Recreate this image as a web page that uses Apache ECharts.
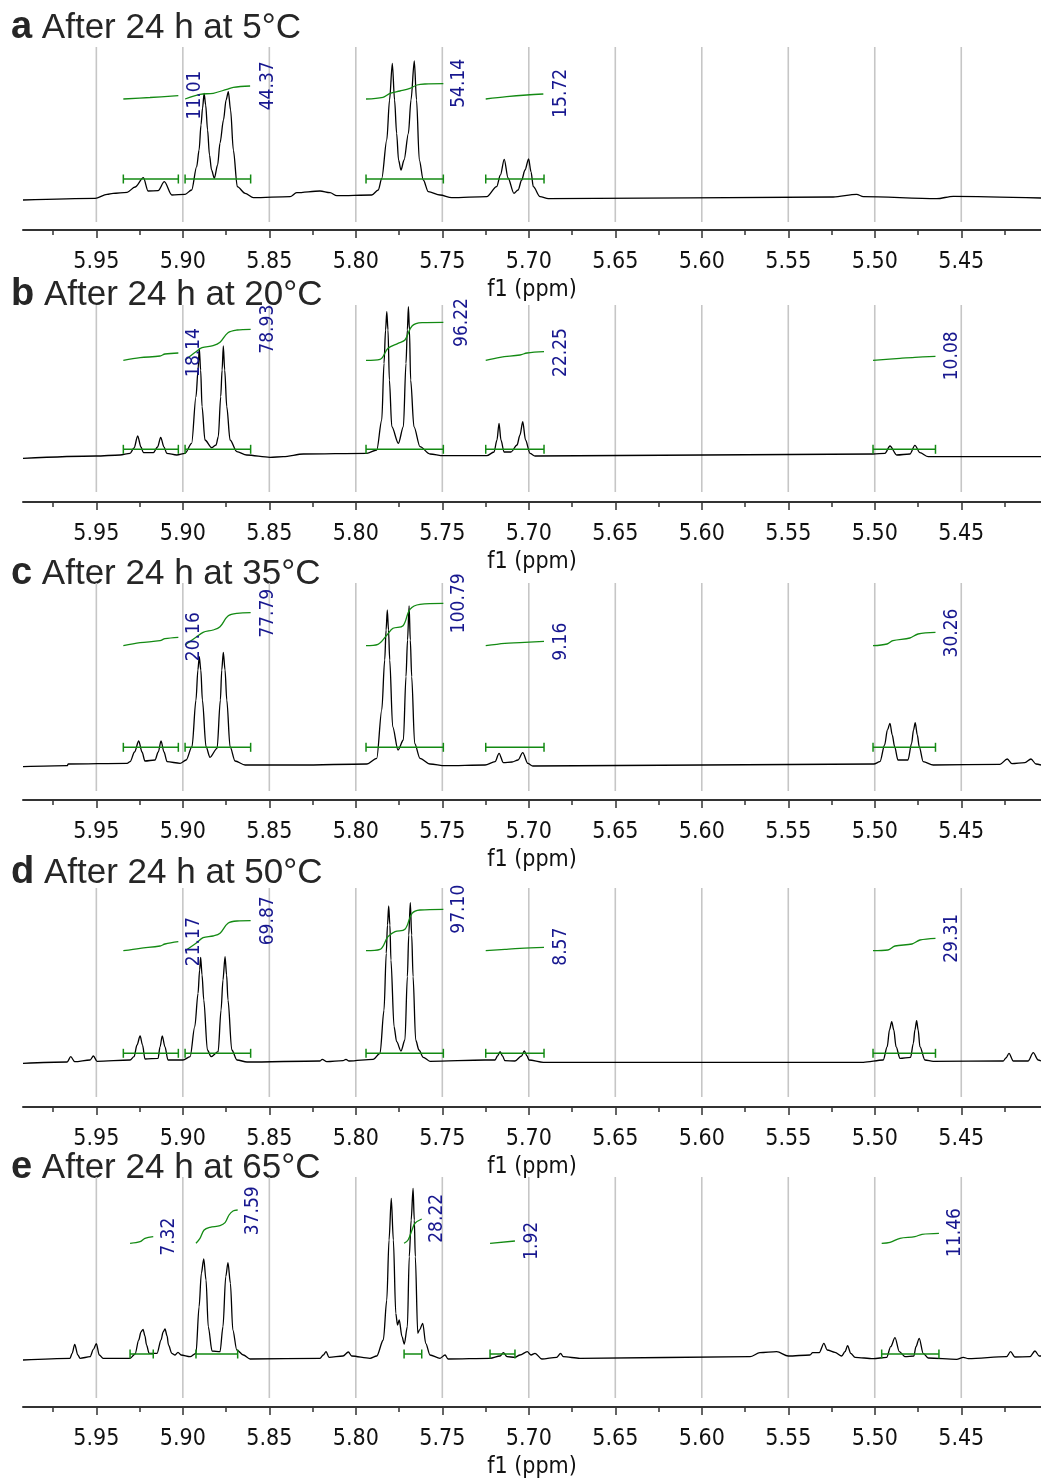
<!DOCTYPE html>
<html><head><meta charset="utf-8">
<script src="https://cdn.jsdelivr.net/npm/echarts@6/dist/echarts.min.js"></script>
<style>html,body{margin:0;padding:0;background:#fff}#c{width:1041px;height:1481px}</style>
</head><body><div id="c"></div>
<script>
// ---------- data ----------
const majorTicks = [5.95,5.90,5.85,5.80,5.75,5.70,5.65,5.60,5.55,5.50,5.45];
const minorTicks = [5.975,5.925,5.875,5.825,5.775,5.725,5.675,5.625,5.575,5.525,5.475,5.425];
const ppmMin = 5.4039, ppmMax = 5.9924;
const panelLetters = ['a','b','c','d','e'];
const panelTitles = ['After 24 h at 5°C','After 24 h at 20°C','After 24 h at 35°C','After 24 h at 50°C','After 24 h at 65°C'];
const axisName = 'f1 (ppm)';

// spectra: [ppm, intensity (a.u.)]
const specA = [[5.9924,22],[5.9507,23.7],[5.9438,27.7],[5.9403,28.7],[5.9322,29.7],[5.9276,35],[5.9228,44.3],[5.9201,31],[5.9143,31.3],[5.9107,40.3],[5.9064,27],[5.8987,27.7],[5.8949,32],[5.8920,55.3],[5.8906,72],[5.8895,97],[5.8886,114],[5.8877,128.7],[5.8868,117],[5.8857,92],[5.8846,67],[5.8834,52],[5.8818,43.7],[5.8799,57],[5.8785,79],[5.8765,102],[5.8750,122],[5.8737,130.3],[5.8724,112],[5.8708,72],[5.8685,35.3],[5.8640,28.7],[5.8592,24.3],[5.8380,25.3],[5.8342,29.3],[5.8207,31],[5.8149,29.3],[5.8110,26.3],[5.7908,27],[5.7870,32],[5.7850,43.7],[5.7821,82],[5.7805,122],[5.7789,158.7],[5.7776,122],[5.7764,88.7],[5.7753,62],[5.7739,52],[5.7721,62],[5.7696,88.7],[5.7681,122],[5.7662,161],[5.7649,122],[5.7633,62],[5.7610,42],[5.7581,30.3],[5.7513,27],[5.7446,24.3],[5.7243,25.3],[5.7186,35.3],[5.7164,47],[5.7142,62.7],[5.7120,44],[5.7086,28.7],[5.7062,32],[5.7041,42],[5.7022,52],[5.7001,63],[5.6987,50],[5.6974,35.3],[5.6935,25.3],[5.6887,23.3],[5.5240,25],[5.5105,27.7],[5.5066,25.3],[5.4642,23.3],[5.4546,25.7],[5.4039,24]];
const specB = [[5.9924,33.7],[5.9502,36],[5.9363,37],[5.9305,38.7],[5.9282,44],[5.9261,56],[5.9242,45],[5.9228,39.3],[5.9171,39.3],[5.9146,45],[5.9128,54.7],[5.9109,45],[5.9093,38.7],[5.9035,37],[5.8987,38.7],[5.8949,48.7],[5.8924,95.3],[5.8912,122],[5.8905,143.7],[5.8897,122],[5.8889,85.3],[5.8872,52],[5.8833,44.3],[5.8808,47],[5.8795,55.3],[5.8781,95.3],[5.8773,122],[5.8766,146],[5.8758,122],[5.8746,85.3],[5.8727,52],[5.8688,40.3],[5.8631,37],[5.8496,34.7],[5.8419,35.3],[5.8303,38],[5.7937,38.7],[5.7879,42],[5.7850,72],[5.7837,128.7],[5.7828,162],[5.7821,180.3],[5.7814,162],[5.7806,112],[5.7792,65.3],[5.7754,48.7],[5.7725,65.3],[5.7710,128.7],[5.7702,162],[5.7696,185.3],[5.7690,162],[5.7683,112],[5.7664,65.3],[5.7629,45.3],[5.7571,38],[5.7494,36.3],[5.7243,36.3],[5.7201,40],[5.7184,52],[5.7172,68.7],[5.7161,52],[5.7143,40],[5.7103,40],[5.7068,47],[5.7051,57],[5.7035,70.3],[5.7019,52],[5.6993,38.7],[5.6964,36],[5.5009,38],[5.4941,38.7],[5.4912,46],[5.4873,37],[5.4797,38],[5.4768,46.7],[5.4739,39.3],[5.4691,35.3],[5.4039,35.3]];
const specC = [[5.9924,24.3],[5.9669,25.3],[5.9662,27],[5.9322,27.7],[5.9305,29.3],[5.9279,39],[5.9255,50],[5.9236,39],[5.9219,30],[5.9161,31],[5.9142,39],[5.9126,50],[5.9109,39],[5.9091,29.3],[5.9016,27.7],[5.8981,31],[5.8947,44.3],[5.8924,91],[5.8913,121],[5.8905,134.3],[5.8896,121],[5.8887,91],[5.8866,44.3],[5.8843,33.7],[5.8802,42.7],[5.8783,91],[5.8775,121],[5.8766,138.7],[5.8756,121],[5.8746,91],[5.8727,44.3],[5.8698,30],[5.8640,26],[5.8322,26],[5.7937,27],[5.7879,32.7],[5.7850,81],[5.7833,131],[5.7825,161],[5.7818,181],[5.7811,161],[5.7804,131],[5.7787,64.3],[5.7756,41],[5.7725,51],[5.7710,114.3],[5.7701,151],[5.7692,185],[5.7685,151],[5.7677,114.3],[5.7660,47.7],[5.7629,32.7],[5.7571,27],[5.7484,25.3],[5.7253,26],[5.7195,29.3],[5.7172,37.7],[5.7147,28.3],[5.7097,29],[5.7062,31],[5.7035,38.3],[5.7006,27.7],[5.6977,25],[5.5005,27],[5.4970,29.3],[5.4943,46],[5.4927,61],[5.4912,67.7],[5.4899,56],[5.4885,44.3],[5.4866,31],[5.4808,31],[5.4787,47.7],[5.4776,61],[5.4766,68.3],[5.4754,56],[5.4743,44.3],[5.4720,29.3],[5.4662,26],[5.4276,26.7],[5.4234,32],[5.4207,27.3],[5.4132,28.3],[5.4097,32],[5.4068,27],[5.4039,26]];
const specD = [[5.9924,33.7],[5.9669,35],[5.9648,40.3],[5.9625,35.3],[5.9536,37],[5.9517,41],[5.9496,35.7],[5.9305,37],[5.9282,40.3],[5.9265,52],[5.9247,61],[5.9233,52],[5.9219,38],[5.9143,38.7],[5.9132,50],[5.9119,61],[5.9103,50],[5.9086,37],[5.8999,37],[5.8958,40.3],[5.8931,70.3],[5.8912,103.7],[5.8903,127],[5.8897,139.7],[5.8889,122],[5.8879,97],[5.8858,47],[5.8837,40.3],[5.8796,45.3],[5.8779,87],[5.8768,117],[5.8756,140.3],[5.8747,122],[5.8739,97],[5.8717,47],[5.8687,37],[5.8629,35],[5.8207,36],[5.8194,37.7],[5.8168,35.3],[5.8074,36.3],[5.8057,37.7],[5.8039,36],[5.7900,37.7],[5.7860,43.7],[5.7837,87],[5.7824,143.7],[5.7817,172],[5.7810,191],[5.7803,172],[5.7797,137],[5.7779,70.3],[5.7764,55.3],[5.7739,46],[5.7716,57],[5.7702,120.3],[5.7694,162],[5.7685,194.3],[5.7677,162],[5.7669,120.3],[5.7654,57],[5.7635,47],[5.7610,39.7],[5.7571,35.7],[5.7253,37],[5.7195,37],[5.7181,41],[5.7166,45.3],[5.7152,41],[5.7138,36.3],[5.7080,36],[5.7042,41],[5.7026,46],[5.7010,41],[5.6999,37],[5.6916,34.7],[5.5066,34.7],[5.4951,37],[5.4928,50.3],[5.4915,67],[5.4902,75.3],[5.4890,67],[5.4877,50.3],[5.4854,38.7],[5.4793,39.7],[5.4777,53.7],[5.4768,67],[5.4758,76.3],[5.4749,67],[5.4739,50.3],[5.4710,37],[5.4662,35.7],[5.4257,36],[5.4242,39],[5.4224,43.7],[5.4199,36],[5.4113,36],[5.4084,44.3],[5.4055,37],[5.4039,36]];
const specE = [[5.9924,38],[5.9652,39.7],[5.9640,44.7],[5.9625,53.7],[5.9607,43],[5.9594,39.7],[5.9536,41.3],[5.9517,48.7],[5.9500,54.3],[5.9483,43],[5.9461,39.7],[5.9305,39.7],[5.9276,44],[5.9255,58],[5.9242,66],[5.9230,68.7],[5.9219,62],[5.9210,53],[5.9195,44.7],[5.9149,44.7],[5.9126,58],[5.9114,66],[5.9103,69],[5.9091,62],[5.9083,53],[5.9064,44.7],[5.9045,43],[5.9028,45.7],[5.9010,43],[5.8958,41.3],[5.8924,44.7],[5.8906,91.3],[5.8893,124.7],[5.8879,139],[5.8866,118],[5.8853,71.3],[5.8831,47],[5.8785,46.3],[5.8768,71.3],[5.8752,121.3],[5.8739,135.3],[5.8725,114.7],[5.8711,68],[5.8688,48],[5.8650,43],[5.8611,39],[5.8207,39.7],[5.8188,43],[5.8172,46.3],[5.8155,40.7],[5.8074,42],[5.8043,46],[5.8024,42],[5.7918,39.7],[5.7879,42],[5.7841,58],[5.7821,98],[5.7808,158],[5.7795,199.7],[5.7783,158],[5.7769,84.7],[5.7759,73],[5.7749,78],[5.7733,61.3],[5.7720,54],[5.7702,71.3],[5.7691,141.3],[5.7680,178],[5.7669,209.7],[5.7662,178],[5.7656,141.3],[5.7642,64.7],[5.7632,68],[5.7613,74.7],[5.7596,54.7],[5.7571,43],[5.7513,39.7],[5.7484,43],[5.7467,39],[5.7224,39.7],[5.7166,42],[5.7147,45.3],[5.7126,41.3],[5.7080,40.7],[5.7051,43],[5.7009,46.3],[5.6987,43],[5.6964,44.7],[5.6925,39],[5.6839,40.7],[5.6816,44.7],[5.6801,41.3],[5.6704,39.7],[5.5721,41.3],[5.5664,45.3],[5.5567,46.3],[5.5500,42],[5.5375,43],[5.5359,45.3],[5.5321,45.3],[5.5294,54.7],[5.5275,48],[5.5230,45.7],[5.5191,42],[5.5172,46.3],[5.5157,52.3],[5.5139,44.7],[5.5114,40.7],[5.5009,39.3],[5.4931,40.7],[5.4908,51.3],[5.4883,60.3],[5.4858,46.3],[5.4825,41.3],[5.4774,42],[5.4762,51.3],[5.4743,59.7],[5.4720,44.7],[5.4691,40],[5.4527,38.7],[5.4488,40.7],[5.4459,39.3],[5.4238,41.3],[5.4215,46.3],[5.4190,41],[5.4103,41.3],[5.4074,47],[5.4049,42],[5.4039,42]];

// integration ranges: [ppm start, ppm end, level]
const intBarsA = [[5.9344,5.9026,43],[5.8987,5.8608,43],[5.7941,5.7494,43],[5.7249,5.6912,43]];
const intBarsB = [[5.9344,5.9026,42.7],[5.8987,5.8608,42.7],[5.7941,5.7494,42.7],[5.7249,5.6912,42.7],[5.5010,5.4649,42.7]];
const intBarsC = [[5.9344,5.9026,43.7],[5.8987,5.8608,43.7],[5.7941,5.7494,43.7],[5.7249,5.6912,43.7],[5.5010,5.4649,43.7]];
const intBarsD = [[5.9344,5.9026,43.7],[5.8987,5.8608,43.7],[5.7941,5.7494,43.7],[5.7249,5.6912,43.7],[5.5010,5.4649,43.7]];
const intBarsE = [[5.9305,5.9171,44],[5.8924,5.8683,44],[5.7721,5.7619,44],[5.7224,5.7080,44],[5.4960,5.4629,44]];

// integral curves
const curvesA = [
 [[5.9344,123],[5.9190,124.5],[5.9026,126.3]],
 [[5.8987,123],[5.8901,127.7],[5.8824,128.7],[5.8746,132.7],[5.8708,134.7],[5.8611,136]],
 [[5.7941,123],[5.7843,124.7],[5.7802,128.7],[5.7745,131],[5.7687,133.7],[5.7646,137],[5.7600,138],[5.7494,138.3]],
 [[5.7249,123],[5.7128,125.3],[5.7012,127],[5.6916,128]]];
const curvesB = [
 [[5.9344,131.7],[5.9247,134.3],[5.9132,136],[5.9103,138],[5.9026,139]],
 [[5.8987,132],[5.8924,140.3],[5.8889,144.3],[5.8825,146.3],[5.8785,149.7],[5.8739,159.3],[5.8687,162],[5.8608,162.7]],
 [[5.7941,131.7],[5.7860,132.7],[5.7814,143.7],[5.7756,148.7],[5.7716,152],[5.7675,166],[5.7617,169.3],[5.7494,169.7]],
 [[5.7249,131.7],[5.7166,134.7],[5.7051,137],[5.7010,139],[5.6912,140.3]],
 [[5.5010,131.7],[5.4854,133.7],[5.4768,134.7],[5.4649,135.7]]];
const curvesC = [
 [[5.9344,145.3],[5.9247,148.3],[5.9132,150.3],[5.9103,152.3],[5.9026,153.7]],
 [[5.8987,146],[5.8924,153.7],[5.8883,158.7],[5.8825,161],[5.8785,164.3],[5.8739,175],[5.8687,177.7],[5.8608,178.3]],
 [[5.7941,145.3],[5.7872,146.7],[5.7820,156],[5.7785,162.7],[5.7727,165.3],[5.7687,181.7],[5.7629,186.7],[5.7494,187.7]],
 [[5.7249,145.3],[5.7138,147.7],[5.7051,148.3],[5.6912,149.7]],
 [[5.5010,145.3],[5.4929,147],[5.4895,150.3],[5.4797,153],[5.4750,157],[5.4649,158.7]]];
const curvesD = [
 [[5.9344,146.3],[5.9247,148.7],[5.9132,151],[5.9103,153],[5.9026,155.3]],
 [[5.8987,146.3],[5.8924,153.7],[5.8883,159.3],[5.8825,161],[5.8785,163.7],[5.8739,173.7],[5.8687,176],[5.8608,176.3]],
 [[5.7941,146.3],[5.7860,147.7],[5.7814,160.3],[5.7773,165.3],[5.7716,167.7],[5.7675,183.7],[5.7629,187],[5.7494,187.7]],
 [[5.7249,146.3],[5.7138,147.7],[5.7051,148.7],[5.6912,149.7]],
 [[5.5010,146.3],[5.4924,147],[5.4883,151],[5.4785,153],[5.4739,157],[5.4649,158.7]]];
const curvesE = [
 [[5.9305,154.7],[5.9247,156.3],[5.9219,159.7],[5.9171,161.3]],
 [[5.8924,154.7],[5.8901,159.7],[5.8877,168],[5.8843,170.7],[5.8785,172.3],[5.8756,175.3],[5.8733,183],[5.8710,187],[5.8683,188]],
 [[5.7721,154.7],[5.7698,158],[5.7675,168],[5.7658,174.7],[5.7619,179]],
 [[5.7224,154.7],[5.7080,157]],
 [[5.4960,154.7],[5.4912,155.7],[5.4854,159.7],[5.4768,161.3],[5.4727,163.7],[5.4629,164.7]]];

// integral values [ppm, level, text]
const labelsA = [[5.8929,127,'11.01'],[5.8506,136.2,'44.37'],[5.7402,138.7,'54.14'],[5.6816,128.7,'15.72']];
const labelsB = [[5.8933,139.5,'18.14'],[5.8506,162.8,'78.93'],[5.7388,169.5,'96.22'],[5.6816,139.5,'22.25'],[5.4555,136.2,'10.08']];
const labelsC = [[5.8933,154.3,'20.16'],[5.8506,177.7,'77.79'],[5.7402,187.7,'100.79'],[5.6816,149.3,'9.16'],[5.4555,158,'30.26']];
const labelsD = [[5.8933,155.3,'21.17'],[5.8506,176.2,'69.87'],[5.7402,187.8,'97.10'],[5.6816,150.3,'8.57'],[5.4555,158.7,'29.31']];
const labelsE = [[5.9078,161.3,'7.32'],[5.8592,187.2,'37.59'],[5.7529,179.7,'28.22'],[5.6983,157.2,'1.92'],[5.4536,165.5,'11.46']];

// ---------- layout & style ----------
const spectra = [specA,specB,specC,specD,specE];
const bars = [intBarsA,intBarsB,intBarsC,intBarsD,intBarsE];
const curves = [curvesA,curvesB,curvesC,curvesD,curvesE];
const labels = [labelsA,labelsB,labelsC,labelsD,labelsE];
const layout = [
  {top:47,  height:175, offset:8,  titleY:28},
  {top:305, height:187, offset:10, titleY:295},
  {top:583, height:208, offset:9,  titleY:574},
  {top:888, height:209, offset:10, titleY:873},
  {top:1177,height:221, offset:9,  titleY:1168}
];
const tickFont = "'DejaVu Sans Condensed','DejaVu Sans',sans-serif";
const GREEN = '#138a13', NAVY = '#17178f', AXIS = '#333';

const grid=[], xAxis=[], yAxis=[], series=[], graphic=[];
layout.forEach((L,i)=>{
  grid.push({left:23, right:0, top:L.top, height:L.height, outerBoundsMode:'none', containLabel:false});
  xAxis.push({type:'value', gridIndex:i, min:ppmMin, max:ppmMax, inverse:true, position:'bottom', offset:L.offset,
    name:axisName, nameLocation:'middle', nameGap:49,
    nameTextStyle:{fontSize:23, fontFamily:tickFont, color:'#111'},
    axisLine:{show:true, onZero:false, lineStyle:{color:AXIS, width:2}},
    axisTick:{show:true, customValues:majorTicks, length:8, lineStyle:{color:AXIS, width:1.5}},
    axisLabel:{show:true, customValues:majorTicks, formatter:v=>Number(v).toFixed(2), margin:21,
      fontSize:23, fontFamily:tickFont, color:'#111'},
    splitLine:{show:false}, minorTick:{show:false}});
  xAxis.push({type:'value', gridIndex:i, min:ppmMin, max:ppmMax, inverse:true, position:'bottom', offset:L.offset,
    axisLine:{show:false, onZero:false},
    axisTick:{show:true, customValues:minorTicks, length:5, lineStyle:{color:AXIS, width:1.5}},
    axisLabel:{show:false}, splitLine:{show:false}});
  yAxis.push({type:'value', gridIndex:i, min:0, max:L.height, show:false, splitLine:{show:false}});
  const xi = 2*i;
  // vertical grid lines at major ticks
  series.push({type:'custom', xAxisIndex:xi, yAxisIndex:i, z:1, silent:true, animation:false,
    data: majorTicks.map(v=>[v]),
    renderItem:(params, api)=>{
      const cs = params.coordSys;
      const x = api.coord([api.value(0), 0])[0];
      return {type:'line', shape:{x1:x, y1:cs.y, x2:x, y2:cs.y+cs.height},
        style:{stroke:'#c6c6c6', lineWidth:1.6}};
    }});
  // spectrum
  series.push({type:'line', xAxisIndex:xi, yAxisIndex:i, z:3, data:spectra[i], showSymbol:false, symbol:'none',
    smooth:0.3, smoothMonotone:'x', animation:false, silent:true, clip:false, lineStyle:{color:'#000', width:1.3}});
  // integral curves
  curves[i].forEach(c=>{
    series.push({type:'line', xAxisIndex:xi, yAxisIndex:i, z:4, data:c, showSymbol:false, symbol:'none',
      smooth:0.35, animation:false, silent:true, clip:false, lineStyle:{color:GREEN, width:1.3}});
  });
  // integration bars
  series.push({type:'custom', xAxisIndex:xi, yAxisIndex:i, z:4, silent:true, animation:false, clip:false,
    data:bars[i], encode:{x:[0,1], y:2},
    renderItem:(params, api)=>{
      const p1 = api.coord([api.value(0), api.value(2)]);
      const p2 = api.coord([api.value(1), api.value(2)]);
      const st = {stroke:GREEN, lineWidth:1.5};
      const h = 4.5;
      return {type:'group', children:[
        {type:'line', shape:{x1:p1[0], y1:p1[1], x2:p2[0], y2:p2[1]}, style:st},
        {type:'line', shape:{x1:p1[0], y1:p1[1]-h, x2:p1[0], y2:p1[1]+h}, style:st},
        {type:'line', shape:{x1:p2[0], y1:p2[1]-h, x2:p2[0], y2:p2[1]+h}, style:st}
      ]};
    }});
  // integral values
  const lab = labels[i];
  series.push({type:'custom', xAxisIndex:xi, yAxisIndex:i, z:5, silent:true, animation:false, clip:false,
    data: lab.map(d=>[d[0], d[1]]),
    renderItem:(params, api)=>{
      const p = api.coord([api.value(0), api.value(1)]);
      return {type:'text', x:p[0], y:p[1], rotation:Math.PI/2,
        style:{text:lab[params.dataIndex][2], fill:NAVY, fontSize:19, fontFamily:tickFont,
          align:'center', verticalAlign:'middle'}};
    }});
  // panel title
  graphic.push({type:'text', left:11, top:L.titleY-19, silent:true,
    style:{text:'{l|'+panelLetters[i]+'} '+panelTitles[i], fill:'#262626',
      fontSize:35, fontFamily:"'Liberation Sans',Arial,sans-serif",
      rich:{l:{fontSize:38, fontWeight:'bold', fontFamily:"'Liberation Sans',Arial,sans-serif", fill:'#262626'}}}});
});

const chart = echarts.init(document.getElementById('c'), null, {renderer:'canvas'});
chart.setOption({animation:false, backgroundColor:'#fff', grid, xAxis, yAxis, series, graphic});
</script></body></html>
